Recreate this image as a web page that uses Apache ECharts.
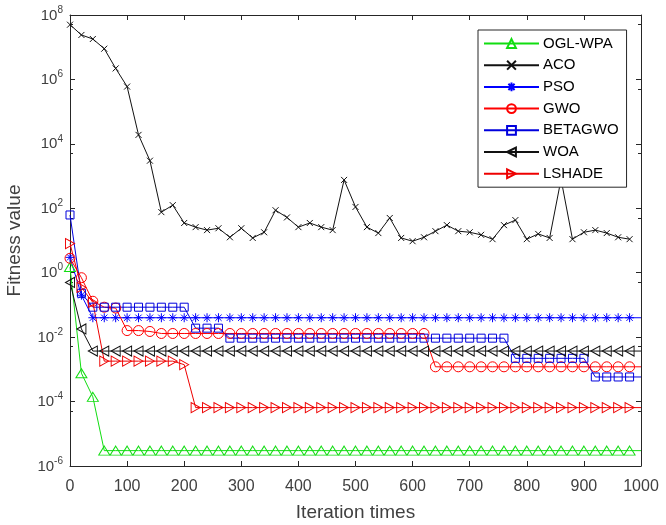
<!DOCTYPE html>
<html>
<head>
<meta charset="utf-8">
<script src="https://cdn.jsdelivr.net/npm/echarts@6/dist/echarts.min.js"></script>
<style>
  html, body { margin: 0; padding: 0; background: #fff; }
  #main { width: 666px; height: 525px; }
</style>
</head>
<body>
<div id="main"></div>
<script>
// iterations where values were read (markers every 20 iterations, last point at 1000)
const iterations = [0, 20, 40, 60, 80, 100, 120, 140, 160, 180,
  200, 220, 240, 260, 280, 300, 320, 340, 360, 380,
  400, 420, 440, 460, 480, 500, 520, 540, 560, 580,
  600, 620, 640, 660, 680, 700, 720, 740, 760, 780,
  800, 820, 840, 860, 880, 900, 920, 940, 960, 980, 1000];

const oglWpa = [1.5, 7.6e-4, 1.4e-4, 3e-6, 3e-6, 3e-6, 3e-6, 3e-6, 3e-6, 3e-6,
  3e-6, 3e-6, 3e-6, 3e-6, 3e-6, 3e-6, 3e-6, 3e-6, 3e-6, 3e-6,
  3e-6, 3e-6, 3e-6, 3e-6, 3e-6, 3e-6, 3e-6, 3e-6, 3e-6, 3e-6,
  3e-6, 3e-6, 3e-6, 3e-6, 3e-6, 3e-6, 3e-6, 3e-6, 3e-6, 3e-6,
  3e-6, 3e-6, 3e-6, 3e-6, 3e-6, 3e-6, 3e-6, 3e-6, 3e-6, 3e-6, 3e-6];

// ACO stops at 980
const aco = [5e7, 2.4e7, 1.8e7, 9e6, 2.2e6, 6e5, 1.9e4, 3e3, 76, 125,
  35, 26, 21, 24, 12.6, 24, 12, 18, 87, 52,
  26, 35, 26, 21, 760, 110, 26, 17, 50, 12,
  9.5, 12.6, 19.5, 30, 19.5, 18, 15, 11, 30, 43,
  11, 16, 12, 800, 11, 18, 21, 17, 12.6, 11];

const pso = [3, 0.2, 0.04, 0.04, 0.04, 0.04, 0.04, 0.04, 0.04, 0.04,
  0.04, 0.04, 0.04, 0.04, 0.04, 0.04, 0.04, 0.04, 0.04, 0.04,
  0.04, 0.04, 0.04, 0.04, 0.04, 0.04, 0.04, 0.04, 0.04, 0.04,
  0.04, 0.04, 0.04, 0.04, 0.04, 0.04, 0.04, 0.04, 0.04, 0.04,
  0.04, 0.04, 0.04, 0.04, 0.04, 0.04, 0.04, 0.04, 0.04, 0.04, 0.04];

const gwo = [2.8, 0.7, 0.13, 0.085, 0.08, 0.016, 0.016, 0.015, 0.013, 0.013,
  0.013, 0.013, 0.013, 0.013, 0.013, 0.013, 0.013, 0.013, 0.013, 0.013,
  0.013, 0.013, 0.013, 0.013, 0.013, 0.013, 0.013, 0.013, 0.013, 0.013,
  0.013, 0.013, 0.0012, 0.0012, 0.0012, 0.0012, 0.0012, 0.0012, 0.0012, 0.0012,
  0.0012, 0.0012, 0.0012, 0.0012, 0.0012, 0.0012, 0.0012, 0.0012, 0.0012, 0.0012, 0.0012];

const betagwo = [62, 0.23, 0.085, 0.085, 0.085, 0.085, 0.085, 0.085, 0.085, 0.085,
  0.085, 0.019, 0.019, 0.019, 0.0093, 0.0093, 0.0093, 0.0093, 0.0093, 0.0093,
  0.0093, 0.0093, 0.0093, 0.0093, 0.0093, 0.0093, 0.0093, 0.0093, 0.0093, 0.0093,
  0.0093, 0.0093, 0.0093, 0.0093, 0.0093, 0.0093, 0.0093, 0.0093, 0.0093, 0.0022,
  0.0022, 0.0022, 0.0022, 0.0022, 0.0022, 0.0022, 5.8e-4, 5.8e-4, 5.8e-4, 5.8e-4, 5.8e-4];

const woa = [0.5, 0.018, 0.0037, 0.0037, 0.0037, 0.0037, 0.0037, 0.0037, 0.0037, 0.0037,
  0.0037, 0.0037, 0.0037, 0.0037, 0.0037, 0.0037, 0.0037, 0.0037, 0.0037, 0.0037,
  0.0037, 0.0037, 0.0037, 0.0037, 0.0037, 0.0037, 0.0037, 0.0037, 0.0037, 0.0037,
  0.0037, 0.0037, 0.0037, 0.0037, 0.0037, 0.0037, 0.0037, 0.0037, 0.0037, 0.0037,
  0.0037, 0.0037, 0.0037, 0.0037, 0.0037, 0.0037, 0.0037, 0.0037, 0.0037, 0.0037, 0.0037];

const lshade = [8, 0.35, 0.12, 0.0018, 0.0018, 0.0018, 0.0018, 0.0018, 0.0018, 0.0018,
  0.0014, 6.5e-5, 6.5e-5, 6.5e-5, 6.5e-5, 6.5e-5, 6.5e-5, 6.5e-5, 6.5e-5, 6.5e-5,
  6.5e-5, 6.5e-5, 6.5e-5, 6.5e-5, 6.5e-5, 6.5e-5, 6.5e-5, 6.5e-5, 6.5e-5, 6.5e-5,
  6.5e-5, 6.5e-5, 6.5e-5, 6.5e-5, 6.5e-5, 6.5e-5, 6.5e-5, 6.5e-5, 6.5e-5, 6.5e-5,
  6.5e-5, 6.5e-5, 6.5e-5, 6.5e-5, 6.5e-5, 6.5e-5, 6.5e-5, 6.5e-5, 6.5e-5, 6.5e-5, 6.5e-5];

const xTicks = [0, 100, 200, 300, 400, 500, 600, 700, 800, 900, 1000];

const FONT = "'Liberation Sans', Arial, sans-serif";
const AXIS_COLOR = '#262626';
const LABEL_COLOR = '#404040';

const crossPath = 'path://M0 0L10 10M10 0L0 10';
const starPath = 'path://M5 0L5 10M0 5L10 5M1.5 1.5L8.5 8.5M8.5 1.5L1.5 8.5';

function makeSeries(name, values, color, symbol, size, rotate) {
  const data = values.map((v, i) => {
    const it = iterations[i];
    if (it === 1000) return { value: [it, v], symbol: 'none' };
    return [it, v];
  });
  return {
    name: name,
    type: 'line',
    data: data,
    symbol: symbol,
    symbolSize: size,
    symbolRotate: rotate || 0,
    showAllSymbol: true,
    lineStyle: { color: color, width: 1 },
    itemStyle: { color: 'rgba(0,0,0,0)', borderColor: color, borderWidth: 1 },
    emphasis: { disabled: true },
    animation: false
  };
}

const chart = echarts.init(document.getElementById('main'));

const supLabel = {
  show: true,
  margin: 7,
  formatter: function (v) {
    const e = Math.round(Math.log10(v));
    return '{b|10}{e|' + e + '}';
  },
  rich: {
    b: { fontSize: 15, fontFamily: FONT, color: LABEL_COLOR, lineHeight: 16, verticalAlign: 'bottom' },
    e: { fontSize: 10, fontFamily: FONT, color: LABEL_COLOR, lineHeight: 12, padding: [0, 0, 8, 0], verticalAlign: 'bottom' }
  }
};

const option = {
  backgroundColor: '#fff',
  animation: false,
  grid: { left: 70, right: 25, top: 15, bottom: 59, containLabel: false, outerBoundsMode: 'none' },
  legend: {
    orient: 'vertical',
    left: 478,
    top: 30,
    padding: [6, 8, 6, 5],
    itemWidth: 55,
    itemHeight: 11,
    itemGap: 6.7,
    backgroundColor: '#fff',
    borderColor: AXIS_COLOR,
    borderWidth: 1,
    textStyle: { fontSize: 15, fontFamily: FONT, color: '#000', padding: [0, 0, 0, -1] },
    data: ['OGL-WPA', 'ACO', 'PSO', 'GWO', 'BETAGWO', 'WOA', 'LSHADE']
  },
  xAxis: [
    {
      type: 'value', min: 0, max: 1000, interval: 100, position: 'bottom',
      name: 'Iteration times', nameLocation: 'middle', nameGap: 37,
      nameTextStyle: { fontSize: 19, fontFamily: FONT, color: LABEL_COLOR },
      axisLine: { show: true, lineStyle: { color: AXIS_COLOR, width: 1 } },
      axisTick: { show: true, inside: true, length: 5, lineStyle: { color: AXIS_COLOR } },
      axisLabel: {
        fontSize: 16, fontFamily: FONT, color: LABEL_COLOR, margin: 13,
        formatter: v => (xTicks.indexOf(v) >= 0 ? String(v) : '')
      },
      splitLine: { show: false }
    },
    {
      type: 'value', min: 0, max: 1000, interval: 100, position: 'top',
      axisLine: { show: true, onZero: false, lineStyle: { color: AXIS_COLOR, width: 1 } },
      axisTick: { show: true, inside: true, length: 5, lineStyle: { color: AXIS_COLOR } },
      axisLabel: { show: false },
      splitLine: { show: false }
    }
  ],
  yAxis: [
    {
      type: 'log', logBase: 10, min: 1e-6, max: 1e8, interval: 2, position: 'left',
      name: 'Fitness value', nameLocation: 'middle', nameGap: 46, nameRotate: 90,
      nameTextStyle: { fontSize: 19, fontFamily: FONT, color: LABEL_COLOR },
      axisLine: { show: true, lineStyle: { color: AXIS_COLOR, width: 1 } },
      axisTick: { show: true, inside: true, length: 5, lineStyle: { color: AXIS_COLOR } },
      minorTick: { show: true, splitNumber: 2, length: 3, lineStyle: { color: AXIS_COLOR } },
      axisLabel: supLabel,
      splitLine: { show: false }
    },
    {
      type: 'log', logBase: 10, min: 1e-6, max: 1e8, interval: 2, position: 'right',
      axisLine: { show: true, onZero: false, lineStyle: { color: AXIS_COLOR, width: 1 } },
      axisTick: { show: true, inside: true, length: 5, lineStyle: { color: AXIS_COLOR } },
      minorTick: { show: true, splitNumber: 2, length: 3, lineStyle: { color: AXIS_COLOR } },
      axisLabel: { show: false },
      splitLine: { show: false }
    }
  ],
  series: [
    makeSeries('OGL-WPA', oglWpa, '#11dd11', 'triangle', [11, 9]),
    makeSeries('ACO', aco, '#111111', crossPath, 6),
    makeSeries('PSO', pso, '#0000ff', starPath, 9),
    makeSeries('GWO', gwo, '#ff0000', 'circle', 10),
    makeSeries('BETAGWO', betagwo, '#0000dd', 'rect', 8),
    makeSeries('WOA', woa, '#111111', 'triangle', [10, 9], 90),
    makeSeries('LSHADE', lshade, '#ee0000', 'triangle', [10, 9], -90)
  ]
};

chart.setOption(option);
</script>
</body>
</html>
